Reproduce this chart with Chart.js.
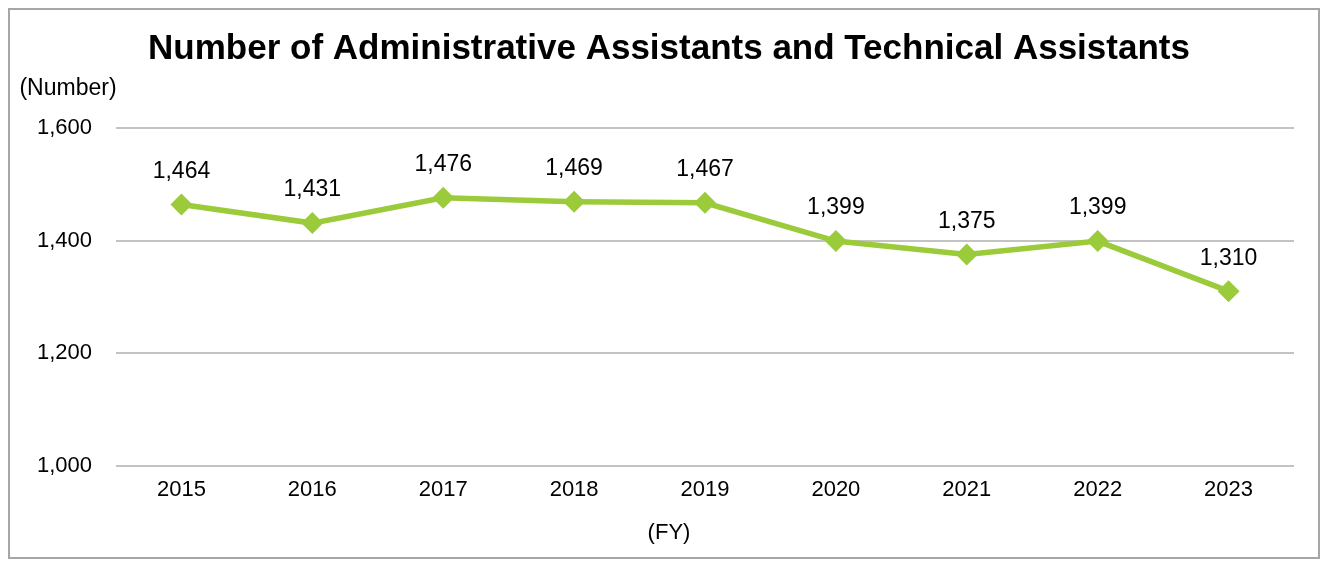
<!DOCTYPE html>
<html>
<head>
<meta charset="utf-8">
<script src="https://cdn.jsdelivr.net/npm/chart.js@4"></script>
<style>
  html, body { margin: 0; padding: 0; background: #fff; }
  #wrap { width: 1327px; height: 562px; }
</style>
</head>
<body>
<div id="wrap"><canvas id="chart" width="1327" height="562"></canvas></div>
<script>
const years = ['2015', '2016', '2017', '2018', '2019', '2020', '2021', '2022', '2023'];
const assistants = [1464, 1431, 1476, 1469, 1467, 1399, 1375, 1399, 1310];
const yTicks = [1000, 1200, 1400, 1600];

const chartTitle = 'Number of Administrative Assistants and Technical Assistants';
const yUnit = '(Number)';
const xUnit = '(FY)';
const fontFamily = '"Liberation Sans", Arial, sans-serif';
const fmt = v => v.toLocaleString('en-US');

// outer frame, title, unit labels and value labels
const decorations = {
    id: 'decorations',
    beforeDraw(chart) {
        const ctx = chart.ctx;
        ctx.save();
        ctx.fillStyle = '#ffffff';
        ctx.fillRect(0, 0, chart.width, chart.height);
        ctx.strokeStyle = '#a6a6a6';
        ctx.lineWidth = 2;
        ctx.strokeRect(9, 9, 1310, 549);
        ctx.restore();
    },
    afterDatasetsDraw(chart) {
        const ctx = chart.ctx;
        ctx.save();
        ctx.fillStyle = '#000';
        ctx.textAlign = 'center';
        ctx.textBaseline = 'middle';
        ctx.font = 'bold 35px ' + fontFamily;
        ctx.fillText(chartTitle, 669, 49);
        ctx.font = '23px ' + fontFamily;
        ctx.fillText(yUnit, 68, 89);
        ctx.font = '22px ' + fontFamily;
        ctx.fillText(xUnit, 669, 533);
        ctx.font = '23px ' + fontFamily;
        chart.getDatasetMeta(0).data.forEach((pt, i) => {
            ctx.fillText(fmt(assistants[i]), pt.x, pt.y - 33);
        });
        ctx.restore();
    }
};

new Chart(document.getElementById('chart'), {
    type: 'line',
    data: {
        labels: years,
        datasets: [{
            data: assistants,
            borderColor: '#9bcb3b',
            backgroundColor: '#9bcb3b',
            borderWidth: 5.5,
            pointStyle: 'rectRot',
            pointRadius: 11,
            pointHoverRadius: 11,
            pointBorderWidth: 0,
            tension: 0
        }]
    },
    options: {
        responsive: false,
        animation: false,
        layout: { padding: { left: 0, right: 33, top: 128, bottom: 48 } },
        plugins: {
            legend: { display: false },
            tooltip: { enabled: false },
            title: { display: false }
        },
        scales: {
            x: {
                offset: true,
                grid: { display: false, drawTicks: false },
                border: { display: false },
                ticks: { color: '#000', padding: 11, font: { family: fontFamily, size: 22 } }
            },
            y: {
                min: 1000,
                max: 1600,
                afterFit(scale) { scale.width = 116; },
                afterBuildTicks(scale) { scale.ticks = yTicks.map(v => ({ value: v })); },
                grid: { color: '#c3c3c3', lineWidth: 2, drawTicks: false },
                border: { display: false },
                ticks: {
                    color: '#000',
                    padding: 24,
                    font: { family: fontFamily, size: 22 },
                    callback: v => fmt(v)
                }
            }
        }
    },
    plugins: [decorations]
});
</script>
</body>
</html>
